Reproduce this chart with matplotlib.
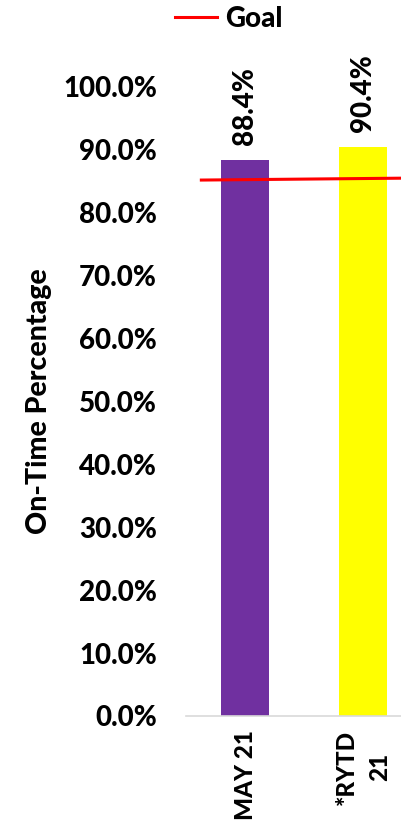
import matplotlib
matplotlib.use("Agg")
import matplotlib.pyplot as plt
from matplotlib.lines import Line2D

plt.rcParams["font.family"] = ["Lato", "DejaVu Sans"]
plt.rcParams["font.weight"] = "black"

# on-time percentages per period
periods = ["MAY 21", "*RYTD\n21"]
on_time = [88.4, 90.4]
bar_colors = ["#7030a0", "#ffff00"]

# goal line end points (category position, percentage)
goal_x = [-0.37, 1.33]
goal_y = [85.2, 85.5]

y_ticks = [0, 10, 20, 30, 40, 50, 60, 70, 80, 90, 100]

fig = plt.figure(figsize=(4.02, 8.22), dpi=100)
ax = fig.add_axes([0.4627, 0.1290, 0.5373, 0.7652])

x = list(range(len(periods)))
ax.bar(x, on_time, width=0.407, color=bar_colors, zorder=2)
ax.plot(goal_x, goal_y, color="#ff0000", linewidth=2.2, zorder=3, clip_on=False)

for xi, v in zip(x, on_time):
    ax.annotate(f"{v:.1f}%", (xi, v), xytext=(0, 11), textcoords="offset points",
                rotation=90, ha="center", va="bottom", fontsize=20, fontweight="black")

ax.set_xlim(-0.5, 1.33)
ax.set_ylim(0, 100)
ax.set_yticks(y_ticks)
ax.set_yticklabels([f"{t:.1f}%" for t in y_ticks], fontsize=20, fontweight="black")
ax.set_xticks(x)
ax.set_xticklabels(periods, rotation=90, fontsize=17.5, fontweight="black",
                   va="top", ha="center", multialignment="center", linespacing=1.55)
ax.tick_params(axis="y", length=0, pad=21)
ax.tick_params(axis="x", length=0, pad=10)

ax.set_ylabel("On-Time Percentage", fontsize=20.5, fontweight="black", labelpad=0)
ax.yaxis.set_label_coords(-0.62, 0.5)

for side in ["left", "right", "top"]:
    ax.spines[side].set_visible(False)
ax.spines["bottom"].set_color("#d9d9d9")
ax.spines["bottom"].set_linewidth(1.2)

handle = Line2D([0], [0], color="#ff0000", linewidth=2.2)
fig.legend([handle], ["Goal"], loc="center", bbox_to_anchor=(0.57, 0.977),
           frameon=False, handlelength=1.5, handletextpad=0.3,
           prop={"weight": "black", "size": 20})

fig.savefig("out.png", dpi=100)
